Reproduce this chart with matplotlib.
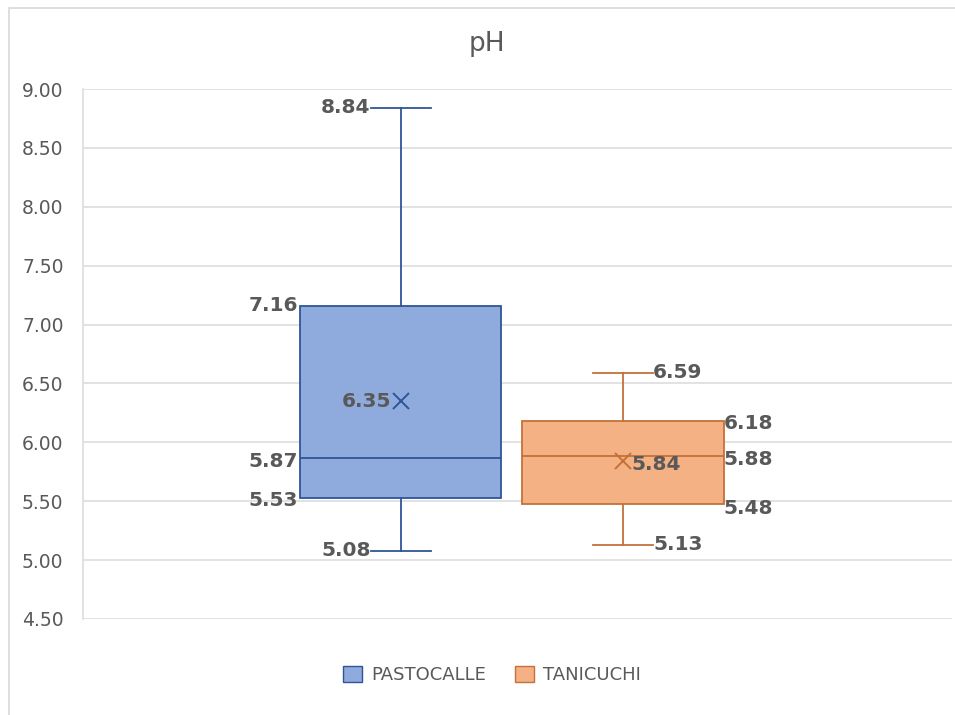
import matplotlib
matplotlib.use('Agg')
from matplotlib import pyplot as plt
from matplotlib.patches import Patch

# box plot statistics
series = ['PASTOCALLE', 'TANICUCHI']
mins = [5.08, 5.13]
q1s = [5.53, 5.48]
medians = [5.87, 5.88]
q3s = [7.16, 6.18]
maxs = [8.84, 6.59]
means = [6.35, 5.84]

yticks = [4.5, 5.0, 5.5, 6.0, 6.5, 7.0, 7.5, 8.0, 8.5, 9.0]

FILLS = ['#8FAADC', '#F4B183']
EDGES = ['#2F5597', '#C5703A']
TXT = '#595959'

fig = plt.figure(figsize=(9.55, 7.15), dpi=100)
ax = fig.add_axes([0.0869, 0.1343, 0.9101, 0.7412])

# chart border (cropped at right and bottom)
fig.patches.append(plt.Rectangle((9 / 955, -0.1), 1.2, 1 - 8 / 715 + 0.1,
                                 transform=fig.transFigure, fill=False,
                                 ec='#D9D9D9', lw=1.2))

positions = [1, 2]
for i, name in enumerate(series):
    stats = [dict(med=medians[i], q1=q1s[i], q3=q3s[i], whislo=mins[i],
                  whishi=maxs[i], mean=means[i], fliers=[], label=name)]
    ax.bxp(stats, positions=[positions[i]], widths=0.905, patch_artist=True,
           showmeans=True, showfliers=False,
           boxprops=dict(facecolor=FILLS[i], edgecolor=EDGES[i], lw=1.3),
           medianprops=dict(color=EDGES[i], lw=1.3),
           whiskerprops=dict(color=EDGES[i], lw=1.3),
           capprops=dict(color=EDGES[i], lw=1.3),
           capwidths=0.27,
           meanprops=dict(marker='x', markeredgecolor=EDGES[i],
                          markersize=12, markeredgewidth=1.4),
           zorder=3)

# data labels
lab = dict(fontsize=14.5, fontweight='bold', color=TXT, zorder=5)
half = 0.905 / 2
cap = 0.27 / 2
# PASTOCALLE labels on the left
x0 = positions[0]
ax.text(x0 - cap, maxs[0], f'{maxs[0]:.2f}', ha='right', va='center', **lab)
ax.text(x0 - half - 0.01, q3s[0], f'{q3s[0]:.2f}', ha='right', va='center', **lab)
ax.text(x0 - half - 0.01, medians[0] - 0.03, f'{medians[0]:.2f}', ha='right', va='center', **lab)
ax.text(x0 - half - 0.01, q1s[0] - 0.02, f'{q1s[0]:.2f}', ha='right', va='center', **lab)
ax.text(x0 - cap, mins[0], f'{mins[0]:.2f}', ha='right', va='center', **lab)
ax.text(x0 - 0.04, means[0], f'{means[0]:.2f}', ha='right', va='center', **lab)
# TANICUCHI labels on the right
x1 = positions[1]
ax.text(x1 + cap, maxs[1], f'{maxs[1]:.2f}', ha='left', va='center', **lab)
ax.text(x1 + half, q3s[1] - 0.02, f'{q3s[1]:.2f}', ha='left', va='center', **lab)
ax.text(x1 + half, medians[1] - 0.03, f'{medians[1]:.2f}', ha='left', va='center', **lab)
ax.text(x1 + half, q1s[1] - 0.04, f'{q1s[1]:.2f}', ha='left', va='center', **lab)
ax.text(x1 + cap, mins[1], f'{mins[1]:.2f}', ha='left', va='center', **lab)
ax.text(x1 + 0.04, means[1] - 0.03, f'{means[1]:.2f}', ha='left', va='center', **lab)

ax.set_xlim(-0.428, 3.48)
ax.set_ylim(4.5, 9.0)
ax.set_yticks(yticks)
ax.set_yticklabels([f'{v:.2f}' for v in yticks])
ax.set_xticks([])
ax.tick_params(axis='y', length=0, pad=14, labelsize=13.5, labelcolor=TXT)
ax.grid(axis='y', color='#DDDDDD', lw=1.2, zorder=0)
ax.set_axisbelow(True)
for s in ['top', 'right', 'bottom']:
    ax.spines[s].set_visible(False)
ax.spines['left'].set_color('#DDDDDD')
ax.spines['left'].set_linewidth(1.2)

fig.text(487 / 955, 1 - 44 / 715, 'pH', ha='center', va='center',
         fontsize=19, color=TXT)

handles = [Patch(facecolor=FILLS[i], edgecolor=EDGES[i], label=series[i])
           for i in range(2)]
fig.legend(handles=handles, loc='center', bbox_to_anchor=(492 / 955, 1 - 675 / 715),
           ncol=2, frameon=False, fontsize=13, labelcolor=TXT,
           handlelength=1.05, handleheight=1.05, columnspacing=1.6,
           handletextpad=0.5)

fig.savefig('out.png', dpi=100)
